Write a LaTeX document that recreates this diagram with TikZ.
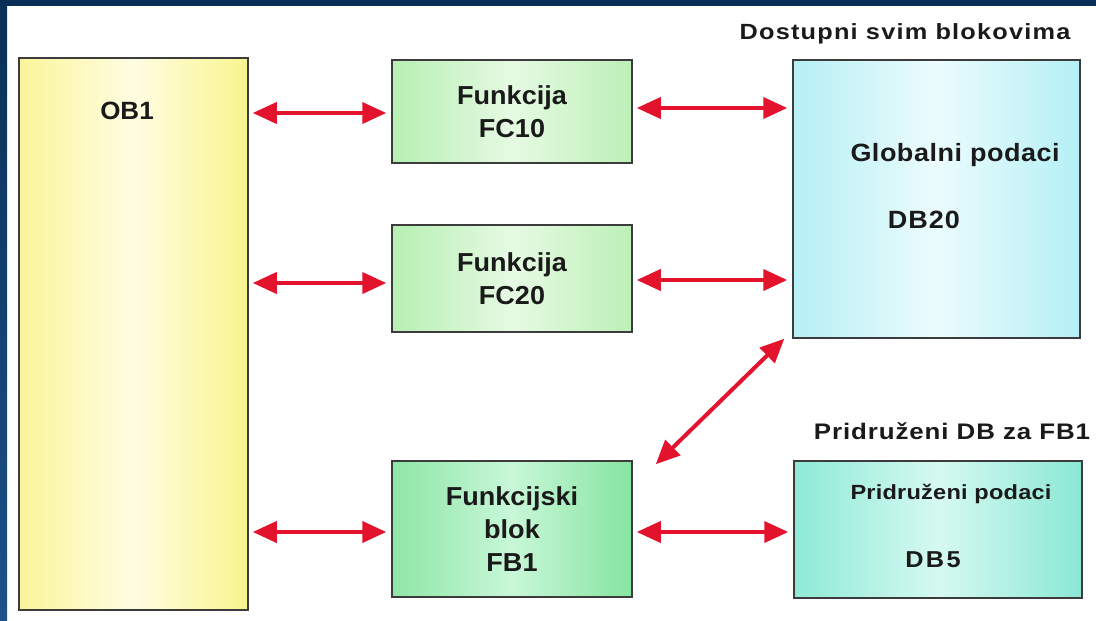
\documentclass[tikz,border=0pt]{standalone}
\usepackage{fontspec}
\setmainfont{Liberation Sans}
\usetikzlibrary{arrows.meta,calc}
\definecolor{arrred}{HTML}{E3122D}
\definecolor{boxline}{HTML}{3C3C3C}
\definecolor{txtcol}{HTML}{1A1A1A}
\definecolor{frametop}{HTML}{0A2F56}
\definecolor{framebot}{HTML}{1D5189}
\definecolor{yelA}{HTML}{FAF59A}
\definecolor{yelB}{HTML}{FFFDE2}
\definecolor{yelC}{HTML}{F8F48E}
\definecolor{grnA}{HTML}{B6EFB2}
\definecolor{grnB}{HTML}{E6FAE3}
\definecolor{grnC}{HTML}{BCF0B6}
\definecolor{fbA}{HTML}{8EE6A6}
\definecolor{fbB}{HTML}{C8F7D8}
\definecolor{fbC}{HTML}{86E4A0}
\definecolor{cyA}{HTML}{B6EFF4}
\definecolor{cyB}{HTML}{ECFCFD}
\definecolor{cyC}{HTML}{B4F0F6}
\definecolor{tqA}{HTML}{8EEAD6}
\definecolor{tqB}{HTML}{D6F9F1}
\definecolor{tqC}{HTML}{8AE8D4}
\newcommand\fsz[2]{\fontsize{#1}{#2}\selectfont}
\begin{document}
\begin{tikzpicture}[x=1pt,y=-1pt,
  box/.style={draw=boxline, line width=1.5pt, rectangle, inner sep=0pt},
  arr/.style={draw=arrred, line width=4pt,
    {Triangle[length=24pt,width=21pt,fill=arrred]}-{Triangle[length=24pt,width=21pt,fill=arrred]},
    shorten <=4pt, shorten >=5pt},
  txt/.style={text=txtcol, inner sep=0pt}]
\useasboundingbox (0,0) rectangle (1096,621);
% frame
\fill[top color=frametop, bottom color=framebot] (0,0) rectangle (7,621);
\fill[frametop] (0,0) rectangle (1096,6);
% boxes
\node[box, minimum width=229pt, minimum height=552pt,
  left color=yelA, right color=yelC, middle color=yelB] (ob) at (133.5,334) {};
\node[box, minimum width=240pt, minimum height=103pt,
  left color=grnA, right color=grnC, middle color=grnB] (fc10) at (512,111.5) {};
\node[box, minimum width=240pt, minimum height=107pt,
  left color=grnA, right color=grnC, middle color=grnB] (fc20) at (512,278.5) {};
\node[box, minimum width=240pt, minimum height=136pt,
  left color=fbA, right color=fbC, middle color=fbB] (fb1) at (512,529) {};
\node[box, minimum width=287pt, minimum height=278pt,
  left color=cyA, right color=cyC, middle color=cyB] (glob) at (936.5,199) {};
\node[box, minimum width=288pt, minimum height=137pt,
  left color=tqA, right color=tqC, middle color=tqB] (db5) at (938,529.5) {};
% texts
\node[txt, anchor=base, font=\bfseries\fsz{25}{30}\addfontfeatures{FakeStretch=1.04}] (tob) at (127,119) {OB1};
\node[txt, align=center, font=\bfseries\fsz{26}{33}\addfontfeatures{FakeStretch=1.04}] (tfc10) at (fc10.center) {Funkcija\\FC10};
\node[txt, align=center, font=\bfseries\fsz{26}{33}\addfontfeatures{FakeStretch=1.04}] (tfc20) at (fc20.center) {Funkcija\\FC20};
\node[txt, align=center, font=\bfseries\fsz{26}{33}\addfontfeatures{FakeStretch=1.04}] (tfb1) at (fb1.center) {Funkcijski\\blok\\FB1};
\node[txt, anchor=base, font=\bfseries\fsz{22}{26}\addfontfeatures{FakeStretch=1.15,LetterSpace=5.5}] (tdost) at (905,39) {Dostupni svim blokovima};
\node[txt, anchor=base, font=\bfseries\fsz{25}{30}\addfontfeatures{FakeStretch=1.08,LetterSpace=2}] (tglob) at (955,161) {Globalni podaci};
\node[txt, anchor=base, font=\bfseries\fsz{25}{30}\addfontfeatures{FakeStretch=1.08,LetterSpace=4}] (tdb20) at (924,228) {DB20};
\node[txt, anchor=base, font=\bfseries\fsz{22.5}{27}\addfontfeatures{FakeStretch=1.15,LetterSpace=4}] (tprid) at (952,439) {Pridruženi DB za FB1};
\node[txt, anchor=base, font=\bfseries\fsz{20.5}{25}\addfontfeatures{FakeStretch=1.15,LetterSpace=1}] (tpp) at (951,499) {Pridruženi podaci};
\node[txt, anchor=base, font=\bfseries\fsz{23}{28}\addfontfeatures{FakeStretch=1.1,LetterSpace=10}] (tdb5) at (933,567) {DB5};
% connectors
\draw[arr] ($(ob.east |- fc10.west)+(0,1.5)$) -- ($(fc10.west)+(0,1.5)$);
\draw[arr] ($(ob.east |- fc20.west)+(0,4.5)$) -- ($(fc20.west)+(0,4.5)$);
\draw[arr] ($(ob.east |- fb1.west)+(0,3)$) -- ($(fb1.west)+(0,3)$);
\draw[arr] ($(fc10.east)+(0,-3.5)$) -- ($(glob.west |- fc10.east)+(0,-3.5)$);
\draw[arr] ($(fc20.east)+(0,1.5)$) -- ($(glob.west |- fc20.east)+(0,1.5)$);
\draw[arr] ($(fb1.east)+(0,3)$) -- ($(db5.west |- fb1.east)+(0,3)$);
\draw[arr, shorten <=0pt, shorten >=0pt] ($(fb1.north east)+(23,4)$) -- ($(glob.south west)+(-8,0)$);
\end{tikzpicture}
\end{document}
